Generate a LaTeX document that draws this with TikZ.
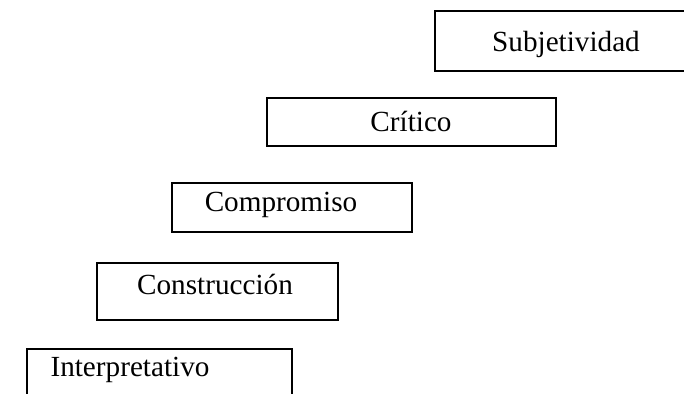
\documentclass[tikz,border=0pt]{standalone}
\usepackage{fontspec}
\setmainfont{Liberation Serif}
\usepackage{tikz}
\usetikzlibrary{positioning}

\begin{document}
\begin{tikzpicture}[x=0.5pt,y=-0.5pt,
	stepbox/.style={draw, line width=0.75pt, inner sep=0pt},
	steplabel/.style={font=\fontsize{14.6}{17}\selectfont, inner sep=0pt, anchor=base}]
	\useasboundingbox (0,0) rectangle (684,394);
	\clip (0,0) rectangle (684,394);
	% boxes of the stair
	\node[stepbox, minimum width=147.5pt, minimum height=30pt] (subj) at (582.5,41) {};
	\node[stepbox, minimum width=144.5pt, minimum height=24pt] (crit) at (411.5,122) {};
	\node[stepbox, minimum width=120pt, minimum height=24.5pt] (comp) at (292,207.5) {};
	\node[stepbox, minimum width=120.5pt, minimum height=28.5pt] (cons) at (217.5,291.5) {};
	\node[stepbox, minimum width=132.5pt, minimum height=30.5pt] (inter) at (159.5,379.5) {};
	% texts
	\node[steplabel] (subj-t) at (566,52) {Subjetividad};
	\node[steplabel] (crit-t) at (411,132) {Crítico};
	\node[steplabel] (comp-t) at (281,212) {Compromiso};
	\node[steplabel] (cons-t) at (215,295) {Construcción};
	\node[steplabel] (inter-t) at (130,377) {Interpretativo};
\end{tikzpicture}
\end{document}
